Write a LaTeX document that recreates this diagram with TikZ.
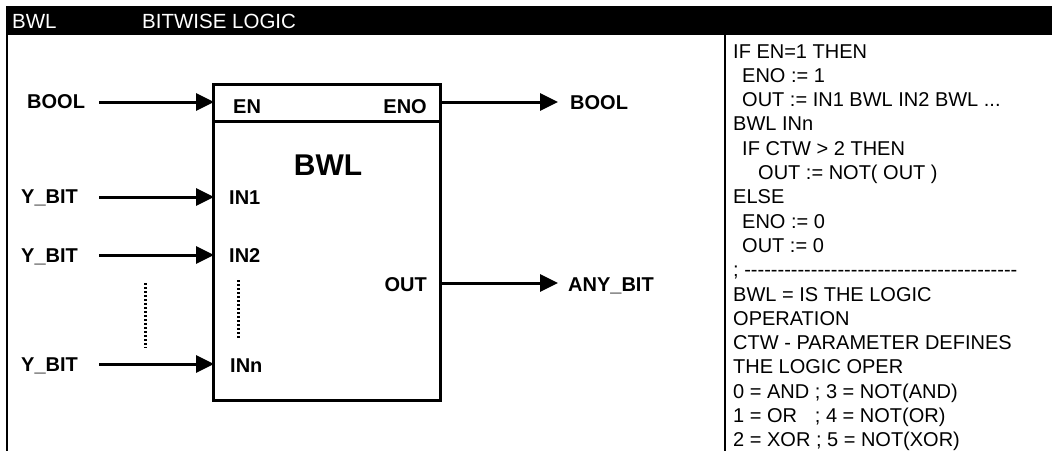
\documentclass[tikz,border=0pt]{standalone}
\usepackage{fontspec}
\setmainfont{Liberation Sans}
\usetikzlibrary{arrows.meta}
\ExplSyntaxOn
\NewDocumentCommand\repdash{m}{\prg_replicate:nn{#1}{-{}}}
\ExplSyntaxOff
\newcommand\tdots{...}
\tikzset{
  lbl/.style={inner sep=0pt, font=\fontsize{20}{24}\selectfont\bfseries},
  txt/.style={inner sep=0pt, anchor=base west, font=\fontsize{20}{24}\selectfont},
  hdr/.style={inner sep=0pt, anchor=base west, text=white, font=\fontsize{20.5}{22}\selectfont},
  arr/.style={line width=3pt, -{Triangle[length=18pt,width=17pt]}, shorten >=-1pt},
  frame/.style={line width=2pt},
  blk/.style={line width=3pt},
  dots/.style={line width=3pt, dash pattern=on 2pt off 2pt}
}
\begin{document}
\begin{tikzpicture}[x=1pt,y=-1pt]
\useasboundingbox (0,0) rectangle (1052,451);
% header
\fill[black] (6,6) rectangle (1052,35);
\node[hdr] (h1) at (12,28) {BWL};
\node[hdr] (h2) at (142,28) {BITWISE LOGIC};
% frame lines
\coordinate (fl1) at (7,35);  \coordinate (fl2) at (7,451);
\coordinate (fd1) at (725,35); \coordinate (fd2) at (725,451);
\draw[frame] (fl1) -- (fl2);
\draw[frame] (fd1) -- (fd2);
% block
\draw[blk] (213,84) rectangle (440,400);
\coordinate (dv1) at (213,121); \coordinate (dv2) at (440,121);
\draw[blk] (dv1) -- (dv2);
\node[lbl, anchor=base] (title) at (328,175) {\fontsize{30}{33}\selectfont BWL};
\node[lbl, anchor=base west] (pEN) at (233,113) {EN};
\node[lbl, anchor=base east] (pENO) at (427,113) {ENO};
\node[lbl, anchor=base west] (pIN1) at (229,204) {IN1};
\node[lbl, anchor=base west] (pIN2) at (229,262) {IN2};
\node[lbl, anchor=base west] (pINn) at (230,372) {INn};
\node[lbl, anchor=base east] (pOUT) at (427,291) {OUT};
% outer labels
\node[lbl, anchor=base west] (iBOOL) at (27,108) {BOOL};
\node[lbl, anchor=base west] (iY1) at (21,203) {Y\_BIT};
\node[lbl, anchor=base west] (iY2) at (21,262) {Y\_BIT};
\node[lbl, anchor=base west] (iYn) at (21,371) {Y\_BIT};
\node[lbl, anchor=base west] (oBOOL) at (570,109) {BOOL};
\node[lbl, anchor=base west] (oANY) at (568,291) {ANY\_BIT};
% connector coordinates
\coordinate (sEN) at (99,102);  \coordinate (tEN) at (213,102);
\coordinate (s1) at (99,197);   \coordinate (t1) at (213,197);
\coordinate (s2) at (99,255);   \coordinate (t2) at (213,255);
\coordinate (sn) at (99,364);   \coordinate (tn) at (213,364);
\coordinate (sENO) at (441,102); \coordinate (tENO) at (557,102);
\coordinate (sOUT) at (441,283); \coordinate (tOUT) at (557,283);
\draw[arr] (sEN) -- (tEN);
\draw[arr] (s1) -- (t1);
\draw[arr] (s2) -- (t2);
\draw[arr] (sn) -- (tn);
\draw[arr] (sENO) -- (tENO);
\draw[arr] (sOUT) -- (tOUT);
% dotted lines
\coordinate (da1) at (145,283); \coordinate (da2) at (145,348);
\coordinate (db1) at (238,280); \coordinate (db2) at (238,339);
\draw[dots] (da1) -- (da2);
\draw[dots] (db1) -- (db2);
% right column
\foreach \t [count=\i] in {
  {IF EN=1 THEN},
  {\hspace*{9pt}ENO := 1},
  {\hspace*{9pt}OUT := IN1 BWL IN2 BWL \tdots},
  {BWL INn},
  {\hspace*{9pt}IF CTW > 2 THEN},
  {\hspace*{25pt}OUT := NOT( OUT )},
  {ELSE},
  {\hspace*{9pt}ENO := 0},
  {\hspace*{9pt}OUT := 0},
  {; \repdash{41}},
  {BWL = IS THE LOGIC},
  {OPERATION},
  {CTW - PARAMETER DEFINES},
  {THE LOGIC OPER},
  {0 = AND ; 3 = NOT(AND)},
  {\rlap{1 = OR}\hphantom{0 = AND} ; 4 = NOT(OR)},
  {2 = XOR ; 5 = NOT(XOR)}
}{
  \node[txt] (r\i) at (733, {58+24.3*(\i-1)}) {\t};
}
\end{tikzpicture}
\end{document}
